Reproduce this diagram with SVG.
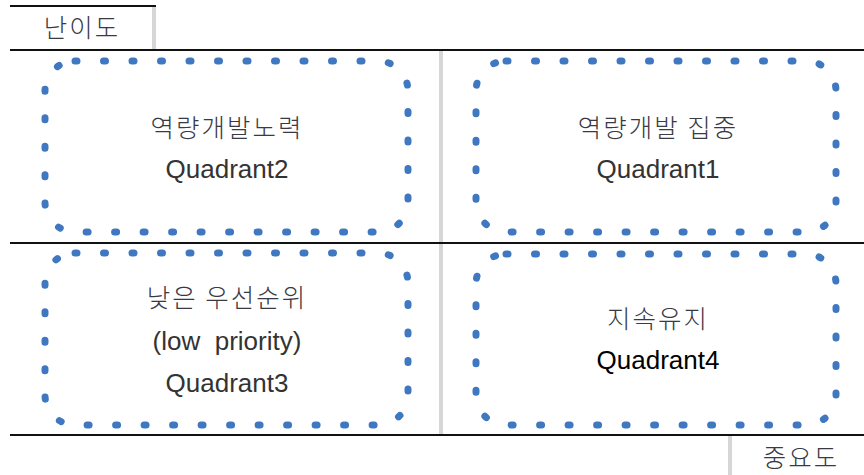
<svg xmlns="http://www.w3.org/2000/svg" width="864" height="475" viewBox="0 0 864 475">
<style>
.t{font-family:"Liberation Sans","Noto Sans CJK KR",sans-serif;font-size:26px;fill:#333;text-anchor:middle;white-space:pre}
.k{font-family:"Noto Sans CJK KR",sans-serif;font-size:25.5px;font-weight:300;fill:#3a3a44;text-anchor:middle;letter-spacing:2px}
.q{fill:none;stroke:#3F78C1;stroke-width:7;stroke-linecap:round;stroke-dasharray:2 26.5}
.b{stroke:#111;stroke-width:2;fill:none}
.g{stroke:#D6D6D6;stroke-width:4;fill:none}
</style>
<rect width="864" height="475" fill="#fff"/>
<g id="axes">
<line class="g" x1="441" y1="50" x2="441" y2="435"/>
<line class="g" x1="154" y1="6" x2="154" y2="50"/>
<line class="g" x1="730" y1="435" x2="730" y2="475"/>
<line class="b" x1="10" y1="6" x2="156" y2="6"/>
<line class="b" x1="10" y1="50" x2="864" y2="50"/>
<line class="b" x1="10" y1="243" x2="864" y2="243"/>
<line class="b" x1="10" y1="435" x2="864" y2="435"/>
<text class="k" x="82" y="37">난이도</text>
<text class="k" x="801" y="467">중요도</text>
</g>
<g id="q2">
<rect class="q" x="45" y="61" width="363" height="171" rx="30"/>
<text class="k" x="227" y="137">역량개발노력</text>
<text class="t" x="227" y="178">Quadrant2</text>
</g>
<g id="q1">
<rect class="q" x="476" y="61" width="360" height="171" rx="30"/>
<text class="k" x="658" y="137">역량개발 집중</text>
<text class="t" x="658" y="178">Quadrant1</text>
</g>
<g id="q3">
<rect class="q" x="45" y="253" width="363" height="172" rx="30"/>
<text class="k" x="227" y="307">낮은 우선순위</text>
<text class="t" x="227" y="350" xml:space="preserve">(low  priority)</text>
<text class="t" x="227" y="392">Quadrant3</text>
</g>
<g id="q4">
<rect class="q" x="476" y="254" width="360" height="171" rx="30"/>
<text class="k" x="658" y="328">지속유지</text>
<text class="t" x="658" y="369" style="fill:#000">Quadrant4</text>
</g>
</svg>
